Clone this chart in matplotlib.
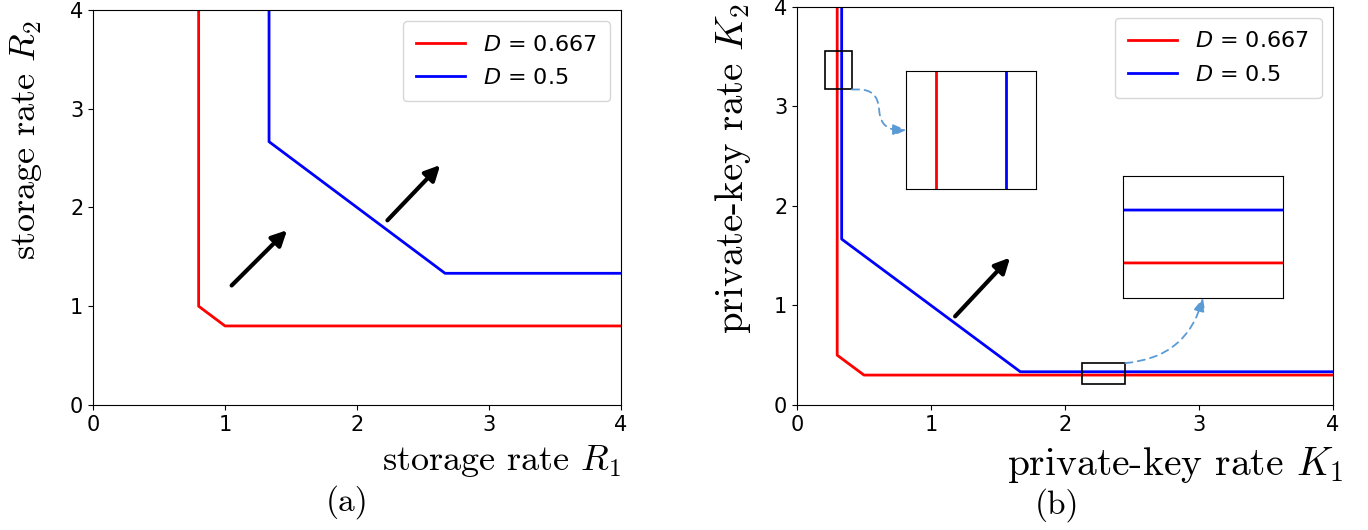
import matplotlib
matplotlib.use("Agg")
import matplotlib.pyplot as plt
from matplotlib.patches import Rectangle, ConnectionPatch

# Left panel: storage rate regions
r1_red = [0.8, 0.8, 1.0, 4.0]
r2_red = [4.0, 1.0, 0.8, 0.8]
r1_blue = [4 / 3, 4 / 3, 8 / 3, 4.0]
r2_blue = [4.0, 8 / 3, 4 / 3, 4 / 3]

# Right panel: private-key rate regions
k1_red = [0.3, 0.3, 0.5, 4.0]
k2_red = [4.0, 0.5, 0.3, 0.3]
k1_blue = [1 / 3, 1 / 3, 5 / 3, 4.0]
k2_blue = [4.0, 5 / 3, 1 / 3, 1 / 3]

labels = ["$D$ = 0.667", "$D$ = 0.5"]
ticks = [0, 1, 2, 3, 4]

RED = "#ff0000"
BLUE = "#0000ff"
LW = 2.0
DASH = "#5b9bd5"

fig = plt.figure(figsize=(13.68, 5.30), dpi=100)
ax1 = fig.add_axes([0.068, 0.236, 0.386, 0.745])
ax2 = fig.add_axes([0.5826, 0.236, 0.3918, 0.751])

for ax in (ax1, ax2):
    ax.set_xlim(0, 4)
    ax.set_ylim(0, 4)
    ax.set_xticks(ticks)
    ax.set_yticks(ticks)
    ax.tick_params(labelsize=15)

# panel (a)
ax1.plot(r1_red, r2_red, color=RED, lw=LW, label=labels[0])
ax1.plot(r1_blue, r2_blue, color=BLUE, lw=LW, label=labels[1])
ax1.legend(loc="upper right", fontsize=16, handlelength=2.2, borderpad=0.6, labelspacing=0.6)
ax1.set_xlabel(r"storage rate $R_1$", loc="right", labelpad=6,
               fontsize=26, family="cmr10", math_fontfamily="cm")
ax1.set_ylabel(r"storage rate $R_2$", loc="top", labelpad=19,
               fontsize=26, family="cmr10", math_fontfamily="cm")
ax1.yaxis.label.set_y(0.975)
arrow_kw = dict(arrowstyle="-|>,head_length=0.9,head_width=0.45", color="black", lw=3, shrinkA=0, shrinkB=0)
ax1.annotate("", xy=(1.47, 1.77), xytext=(1.05, 1.21), arrowprops=arrow_kw)
ax1.annotate("", xy=(2.63, 2.43), xytext=(2.23, 1.87), arrowprops=arrow_kw)

# panel (b)
ax2.plot(k1_red, k2_red, color=RED, lw=LW, label=labels[0])
ax2.plot(k1_blue, k2_blue, color=BLUE, lw=LW, label=labels[1])
ax2.legend(loc="upper right", fontsize=16, handlelength=2.2, borderpad=0.6, labelspacing=0.6)
ax2.set_xlabel(r"private-key rate $K_1$", fontsize=28.5, family="cmr10", math_fontfamily="cm")
ax2.xaxis.set_label_coords(1.019, -0.1)
ax2.xaxis.label.set_ha("right")
ax2.set_ylabel(r"private-key rate $K_2$", loc="top", labelpad=15,
               fontsize=28, family="cmr10", math_fontfamily="cm")
ax2.yaxis.label.set_y(1.01)
ax2.annotate("", xy=(1.59, 1.48), xytext=(1.18, 0.89), arrowprops=arrow_kw)

# zoom rectangles on the main axes
ax2.add_patch(Rectangle((0.21, 3.17), 0.20, 0.39, fill=False, ec="black", lw=1.2, zorder=5))
ax2.add_patch(Rectangle((2.13, 0.21), 0.32, 0.21, fill=False, ec="black", lw=1.2, zorder=5))

# inset 1 (vertical segments)
in1 = ax2.inset_axes([0.204, 0.542, 0.2425, 0.297])
in1.plot(k1_red, k2_red, color=RED, lw=LW)
in1.plot(k1_blue, k2_blue, color=BLUE, lw=LW)
in1.set_xlim(0.2855, 0.348)
in1.set_ylim(3.2, 3.5)
in1.set_xticks([])
in1.set_yticks([])

# inset 2 (horizontal segments)
in2 = ax2.inset_axes([0.609, 0.269, 0.297, 0.307])
in2.plot(k1_red, k2_red, color=RED, lw=LW)
in2.plot(k1_blue, k2_blue, color=BLUE, lw=LW)
in2.set_xlim(2.15, 2.45)
in2.set_ylim(0.278, 0.355)
in2.set_xticks([])
in2.set_yticks([])

dash_kw = dict(arrowstyle="-|>,head_length=0.8,head_width=0.35", color=DASH, lw=1.3,
               linestyle=(0, (4, 3)), shrinkA=0, shrinkB=0)
c1 = ConnectionPatch(xyA=(0.41, 3.17), coordsA=ax2.transData, xyB=(0.0, 0.5), coordsB=in1.transAxes,
                     connectionstyle="arc,angleA=0,angleB=180,armA=25,armB=25,rad=18", **dash_kw)
fig.add_artist(c1)
c2 = ConnectionPatch(xyA=(2.45, 0.42), coordsA=ax2.transData, xyB=(0.5, 0.0), coordsB=in2.transAxes,
                     connectionstyle="arc3,rad=0.35", **dash_kw)
fig.add_artist(c2)

fig.text(0.2536, 0.053, "(a)", ha="center", va="center", fontsize=24, family="cmr10")
fig.text(0.773, 0.047, "(b)", ha="center", va="center", fontsize=24, family="cmr10")

fig.savefig("out.png", dpi=100)
